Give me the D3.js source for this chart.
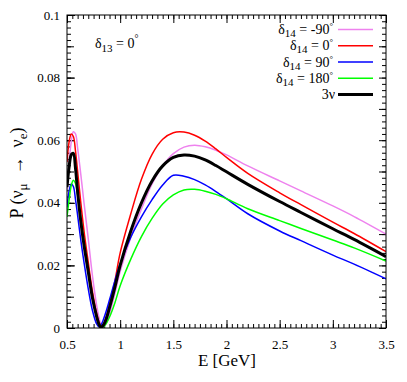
<!DOCTYPE html>
<html>
<head>
<meta charset="utf-8">
<script src="https://cdn.jsdelivr.net/npm/d3@7"></script>
<style>
  html, body { margin: 0; padding: 0; background: #fff; }
  svg { display: block; font-family: "Liberation Serif", "Times New Roman", serif; }
</style>
</head>
<body>
<svg id="chart" width="407" height="382"></svg>
<script>
// ---------------- data ----------------
const energy = [0.5, 0.52, 0.54, 0.56, 0.58, 0.6, 0.63, 0.66, 0.7, 0.74, 0.78, 0.8, 0.82, 0.84, 0.87, 0.9, 0.95, 1.0, 1.1, 1.2, 1.3, 1.4, 1.5, 1.6, 1.7, 1.8, 1.9, 2.0, 2.2, 2.5, 2.7, 3.0, 3.2, 3.5];

const pMinus90 = [0.044, 0.053, 0.0595, 0.0627, 0.062, 0.0575, 0.049, 0.040, 0.0285, 0.0165, 0.007, 0.0035, 0.001, 0.0004, 0.0015, 0.0045, 0.011, 0.018, 0.029, 0.038, 0.046, 0.0518, 0.0557, 0.0578, 0.0584, 0.0579, 0.0568, 0.0553, 0.0518, 0.0470, 0.0438, 0.0390, 0.0356, 0.0300];
const p0 = [0.053, 0.0595, 0.062, 0.0612, 0.0565, 0.050, 0.040, 0.031, 0.021, 0.0115, 0.0045, 0.002, 0.0006, 0.0008, 0.0035, 0.0075, 0.015, 0.024, 0.0365, 0.0475, 0.0555, 0.0603, 0.0624, 0.0626, 0.0616, 0.0597, 0.0572, 0.0545, 0.0494, 0.0432, 0.0394, 0.0338, 0.0302, 0.0244];
const p90 = [0.0385, 0.0438, 0.046, 0.0452, 0.041, 0.036, 0.028, 0.021, 0.0125, 0.0055, 0.0012, 0.0004, 0.001, 0.0025, 0.0055, 0.009, 0.015, 0.0205, 0.029, 0.0355, 0.041, 0.0457, 0.0488, 0.0485, 0.0474, 0.0457, 0.0436, 0.0413, 0.0365, 0.0310, 0.0279, 0.0233, 0.0204, 0.0157];
const p180 = [0.0355, 0.041, 0.0455, 0.0472, 0.0462, 0.0425, 0.035, 0.0275, 0.018, 0.0095, 0.0035, 0.0015, 0.0003, 0.0003, 0.0015, 0.0035, 0.008, 0.0135, 0.022, 0.0292, 0.035, 0.0396, 0.0425, 0.0441, 0.0443, 0.0437, 0.0427, 0.0413, 0.0381, 0.0343, 0.0318, 0.0281, 0.0256, 0.0214];
const p3nu = [0.045, 0.0515, 0.0553, 0.0558, 0.051, 0.0435, 0.034, 0.0265, 0.018, 0.0095, 0.0035, 0.0012, 0.0002, 0.0008, 0.003, 0.0065, 0.013, 0.020, 0.031, 0.040, 0.047, 0.0518, 0.0545, 0.0553, 0.0549, 0.0537, 0.0519, 0.0499, 0.0459, 0.0404, 0.0369, 0.0317, 0.0283, 0.0228];

const seriesNames = ["δ14 = -90°", "δ14 = 0°", "δ14 = 90°", "δ14 = 180°", "3ν"];
const seriesValues = [pMinus90, p0, p90, p180, p3nu];
const seriesColors = ["#ee82ee", "#ff0000", "#0000ff", "#00ff00", "#000000"];
const seriesWidths = [1.5, 1.5, 1.5, 1.5, 3];

const xTickValues = [0.5, 1, 1.5, 2, 2.5, 3, 3.5];
const xTickLabels = ["0.5", "1", "1.5", "2", "2.5", "3", "3.5"];
const yTickValues = [0, 0.02, 0.04, 0.06, 0.08, 0.1];
const yTickLabels = ["0", "0.02", "0.04", "0.06", "0.08", "0.1"];

// ---------------- layout ----------------
const svg = d3.select("#chart");
const L = 67, R = 386, T = 15, B = 328;

const x = d3.scaleLinear().domain([0.5, 3.5]).range([L, R]);
const y = d3.scaleLinear().domain([0, 0.1]).range([B, T]);

const xMinor = d3.range(0, 61).map(i => 0.5 + i * 0.05);
const yMid = d3.range(0, 11).map(i => i * 0.01);
const yMinor = d3.range(0, 51).map(i => i * 0.002);

function styleAxis(g) {
  g.attr("font-family", "'Liberation Serif', serif");
  g.select(".domain").remove();
  g.selectAll("line").attr("stroke", "#000").attr("stroke-width", 1);
  g.selectAll("text").attr("font-size", 13).attr("fill", "#000")
    .attr("font-family", "'Liberation Serif', serif");
}

// minor ticks (all four sides)
svg.append("g").attr("transform", `translate(0,${B})`)
  .call(d3.axisBottom(x).tickValues(xMinor).tickSize(-4).tickFormat(""))
  .call(styleAxis);
svg.append("g").attr("transform", `translate(0,${T})`)
  .call(d3.axisTop(x).tickValues(xMinor).tickSize(-4).tickFormat(""))
  .call(styleAxis);
svg.append("g").attr("transform", `translate(${L},0)`)
  .call(d3.axisLeft(y).tickValues(yMinor).tickSize(-4).tickFormat(""))
  .call(styleAxis);
svg.append("g").attr("transform", `translate(${R},0)`)
  .call(d3.axisRight(y).tickValues(yMinor).tickSize(-4).tickFormat(""))
  .call(styleAxis);
svg.append("g").attr("transform", `translate(${L},0)`)
  .call(d3.axisLeft(y).tickValues(yMid).tickSize(-7).tickFormat(""))
  .call(styleAxis);
svg.append("g").attr("transform", `translate(${R},0)`)
  .call(d3.axisRight(y).tickValues(yMid).tickSize(-7).tickFormat(""))
  .call(styleAxis);

// major ticks with labels
svg.append("g").attr("transform", `translate(0,${B})`)
  .call(d3.axisBottom(x).tickValues(xTickValues).tickSize(-8).tickPadding(12)
    .tickFormat((d, i) => xTickLabels[i]))
  .call(styleAxis);
svg.append("g").attr("transform", `translate(0,${T})`)
  .call(d3.axisTop(x).tickValues(xTickValues).tickSize(-8).tickFormat(""))
  .call(styleAxis);
svg.append("g").attr("transform", `translate(${L},0)`)
  .call(d3.axisLeft(y).tickValues(yTickValues).tickSize(-8).tickPadding(7)
    .tickFormat((d, i) => yTickLabels[i]))
  .call(styleAxis);

// clip
svg.append("clipPath").attr("id", "plotclip")
  .append("rect").attr("x", L).attr("y", T).attr("width", R - L).attr("height", B - T);

const line = d3.line()
  .x((d, i) => x(energy[i]))
  .y(d => y(d))
  .curve(d3.curveCatmullRom.alpha(0.5));

const curves = svg.append("g").attr("clip-path", "url(#plotclip)");
[0, 1, 2, 3, 4].forEach(k => {
  curves.append("path")
    .attr("d", line(seriesValues[k]))
    .attr("fill", "none")
    .attr("stroke", seriesColors[k])
    .attr("stroke-width", seriesWidths[k])
    .attr("stroke-linejoin", "round");
});

// frame
svg.append("rect").attr("x", L).attr("y", T).attr("width", R - L).attr("height", B - T)
  .attr("fill", "none").attr("stroke", "#000").attr("stroke-width", 1);

// legend
const legend = svg.append("g").attr("font-size", 14);
seriesNames.forEach((name, k) => {
  const cy = 29.5 + k * 16.25;
  legend.append("line")
    .attr("x1", 338).attr("x2", 373).attr("y1", cy).attr("y2", cy)
    .attr("stroke", seriesColors[k]).attr("stroke-width", seriesWidths[k]);
  const t = legend.append("text")
    .attr("x", k === 4 ? 335 : 333).attr("y", cy + 4.5)
    .attr("text-anchor", "end");
  if (k < 4) {
    const val = name.replace("δ14 = ", "").replace("°", "");
    t.append("tspan").text("δ");
    t.append("tspan").attr("font-size", 11).attr("dy", 3).text("14");
    t.append("tspan").attr("dy", -3).text(" = " + val);
    t.append("tspan").attr("font-size", 9).attr("dy", -5).text("°");
  } else {
    t.text(name);
  }
});

// annotation δ13 = 0°
const ann = svg.append("text").attr("x", 95).attr("y", 48).attr("font-size", 14);
ann.append("tspan").text("δ");
ann.append("tspan").attr("font-size", 11).attr("dy", 4).text("13");
ann.append("tspan").attr("dy", -4).text(" = 0");
ann.append("tspan").attr("font-size", 10).attr("dy", -6).text("°");

// x title
svg.append("text").attr("x", 227).attr("y", 366).attr("text-anchor", "middle")
  .attr("font-size", 17).text("E [GeV]");

// y title
const yt = svg.append("text")
  .attr("transform", "translate(23,173) rotate(-90)")
  .attr("text-anchor", "middle").attr("font-size", 18)
  .attr("xml:space", "preserve").style("white-space", "pre");
yt.append("tspan").text("P (ν");
yt.append("tspan").attr("font-size", 13).attr("dy", 4).text("μ");
yt.append("tspan").attr("dy", -4).text("  →  ν");
yt.append("tspan").attr("font-size", 13).attr("dy", 4).text("e");
yt.append("tspan").attr("dy", -4).text(")");
</script>
</body>
</html>
